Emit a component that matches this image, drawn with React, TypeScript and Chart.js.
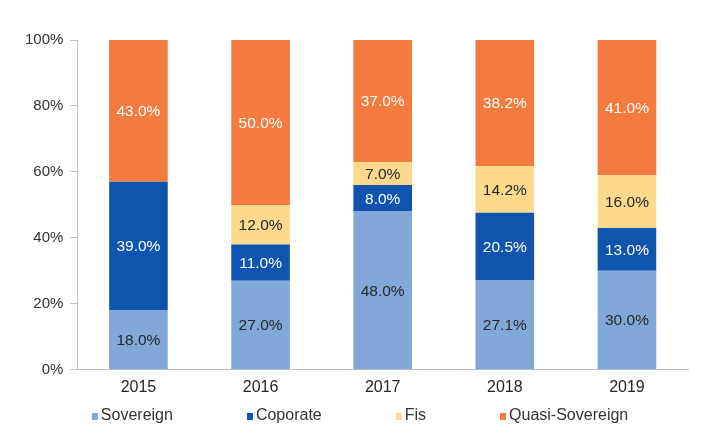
import React, { useEffect, useRef } from 'react';
import { Chart, registerables } from 'chart.js';

Chart.register(...registerables);

const years = ['2015', '2016', '2017', '2018', '2019'];
const sovereign = [18.0, 27.0, 48.0, 27.1, 30.0];
const coporate = [39.0, 11.0, 8.0, 20.5, 13.0];
const fis = [0, 12.0, 7.0, 14.2, 16.0];
const quasiSovereign = [43.0, 50.0, 37.0, 38.2, 41.0];
const seriesNames = ['Sovereign', 'Coporate', 'Fis', 'Quasi-Sovereign'];
const yTicks = [0, 20, 40, 60, 80, 100];

const seriesColors = ['#82A8DA', '#0F55AF', '#FCD98D', '#F47B3F'];
const labelColors = ['#262626', '#FFFFFF', '#262626', '#FFFFFF'];
const FONT = '"Liberation Sans", Arial, sans-serif';

const dataLabelPlugin = {
  id: 'dataLabels',
  afterDatasetsDraw(chart: any) {
    const ctx = chart.ctx;
    ctx.save();
    ctx.font = `15.5px ${FONT}`;
    ctx.textAlign = 'center';
    ctx.textBaseline = 'middle';
    chart.data.datasets.forEach((ds: any, di: number) => {
      const meta = chart.getDatasetMeta(di);
      meta.data.forEach((el: any, i: number) => {
        const v = ds.data[i];
        if (!v) return;
        const props = el.getProps(['x', 'y', 'base'], true);
        ctx.fillStyle = labelColors[di];
        ctx.fillText(v.toFixed(1) + '%', props.x, (props.y + props.base) / 2 + 1);
      });
    });
    ctx.restore();
  },
};

const legendPlugin = {
  id: 'customLegend',
  afterDraw(chart: any) {
    const ctx = chart.ctx;
    ctx.save();
    ctx.font = `16px ${FONT}`;
    ctx.textBaseline = 'middle';
    ctx.textAlign = 'left';
    let x = chart.chartArea.left + 14.5;
    const y = 416;
    chart.data.datasets.forEach((ds: any) => {
      ctx.fillStyle = ds.backgroundColor;
      ctx.fillRect(x, y - 3, 6, 7);
      ctx.fillStyle = '#333333';
      ctx.fillText(ds.label, x + 9, y);
      x += 9 + ctx.measureText(ds.label).width + 74;
    });
    ctx.restore();
  },
};

export default function App() {
  const ref = useRef<HTMLCanvasElement | null>(null);

  useEffect(() => {
    if (!ref.current) return;
    const values = [sovereign, coporate, fis, quasiSovereign];
    const chart = new Chart(ref.current, {
      type: 'bar',
      data: {
        labels: years,
        datasets: values.map((d, i) => ({
          label: seriesNames[i],
          data: d,
          backgroundColor: seriesColors[i],
          borderWidth: 0,
          barPercentage: 0.48,
          categoryPercentage: 1,
        })),
      },
      options: {
        animation: false,
        responsive: false,
        maintainAspectRatio: false,
        layout: { padding: { left: 18, right: 18, top: 40, bottom: 25 } },
        plugins: {
          legend: { display: false },
          tooltip: { enabled: false },
        },
        scales: {
          x: {
            stacked: true,
            grid: { display: false, drawTicks: false },
            border: { display: true, color: '#BFBFBF', width: 1 },
            ticks: { color: '#262626', font: { family: FONT, size: 16 }, padding: 8 },
          },
          y: {
            stacked: true,
            min: 0,
            max: 100,
            afterBuildTicks: (axis: any) => {
              axis.ticks = yTicks.map((v) => ({ value: v }));
            },
            grid: { display: true, drawOnChartArea: false, drawTicks: true, tickLength: 7, color: '#BFBFBF' },
            border: { display: true, color: '#BFBFBF', width: 1 },
            ticks: {
              color: '#333333',
              font: { family: FONT, size: 15 },
              padding: 7,
              callback: (v: any) => v + '%',
            },
          },
        },
      },
      plugins: [dataLabelPlugin, legendPlugin],
    });
    return () => chart.destroy();
  }, []);

  return (
    <div style={{ position: 'fixed', left: 0, top: 0, width: 706, height: 430, background: '#fff' }}>
      <canvas ref={ref} width={706} height={430} style={{ width: 706, height: 430, display: 'block' }} />
    </div>
  );
}
